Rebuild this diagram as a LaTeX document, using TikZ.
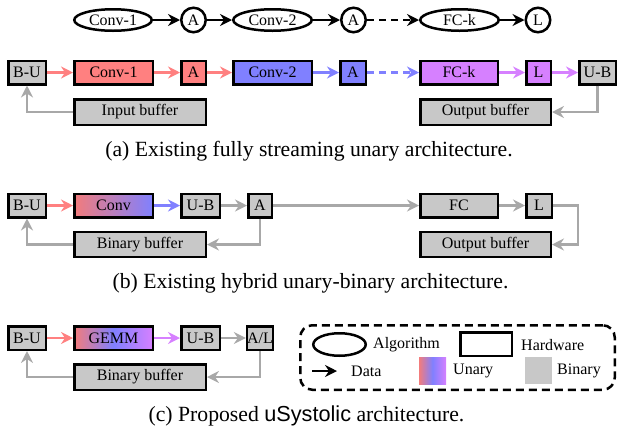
\documentclass[tikz,border=0pt]{standalone}
\usepackage{fontspec}
\setmainfont{Liberation Serif}
\newfontfamily\usysfont{Liberation Sans}
\usetikzlibrary{arrows.meta,shapes.geometric}

\definecolor{ured}{HTML}{FF8080}
\definecolor{ublue}{HTML}{8080FF}
\definecolor{upurple}{HTML}{D680FF}
\definecolor{bgray}{HTML}{C8C8C8}
\definecolor{agray}{HTML}{A8A8A8}
\definecolor{gred}{HTML}{F27C7C}

\tikzset{
  hw/.style={draw, line width=2.5pt, inner sep=0pt, minimum height=23.5pt,
    font=\fontsize{16}{18}\selectfont},
  alg/.style={ellipse, draw, line width=2.5pt, inner sep=0pt, minimum height=21.5pt,
    font=\fontsize{16}{18}\selectfont},
  actv/.style={circle, draw, line width=2.5pt, inner sep=0pt, minimum size=24.5pt,
    font=\fontsize{16}{18}\selectfont},
  flow/.style={line width=2.5pt, -{Stealth[length=12pt,width=12pt,inset=4pt]}},
  tricolor/.style={left color=gred, right color=upurple, middle color=ublue},
  captext/.style={anchor=base, inner sep=0pt, font=\fontsize{21.7}{24}\selectfont},
  lgtext/.style={anchor=west, inner sep=0pt, font=\fontsize{16}{18}\selectfont},
}

\begin{document}
\begin{tikzpicture}[x=1pt, y=-1pt]
\useasboundingbox (0,0) rectangle (618,432);

% ---------- algorithm view ----------
\node[alg, minimum width=77.5] (t1) at (113,20) {Conv-1};
\node[actv] (t2) at (193.5,20) {A};
\node[alg, minimum width=78.5] (t3) at (272.5,20) {Conv-2};
\node[actv] (t4) at (353.5,20) {A};
\node[alg, minimum width=78.5] (t5) at (459.5,20) {FC-k};
\node[actv] (t6) at (538,20) {L};
\draw[flow] (t1) -- (t2);
\draw[flow] (t2) -- (t3);
\draw[flow] (t3) -- (t4);
\draw[flow, dash pattern=on 7pt off 5pt] (t4) -- (t5);
\draw[flow] (t5) -- (t6);

% ---------- (a) fully streaming unary ----------
\node[hw, fill=bgray, minimum width=37.5] (a1) at (27,72.5) {B-U};
\node[hw, fill=ured, minimum width=78.5] (a2) at (113.5,72.5) {Conv-1};
\node[hw, fill=ured, minimum width=24.5] (a3) at (193.5,72.5) {A};
\node[hw, fill=ublue, minimum width=78.5] (a4) at (272.5,72.5) {Conv-2};
\node[hw, fill=ublue, minimum width=25.5] (a5) at (353,72.5) {A};
\node[hw, fill=upurple, minimum width=77.5] (a6) at (459,72.5) {FC-k};
\node[hw, fill=upurple, minimum width=24.5] (a7) at (538.5,72.5) {L};
\node[hw, fill=bgray, minimum width=36.5] (a8) at (597.5,72.5) {U-B};
\node[hw, fill=bgray, minimum width=131.5, minimum height=25.5] (ain) at (140,112) {Input buffer};
\node[hw, fill=bgray, minimum width=130.5, minimum height=25.5] (aout) at (485.5,112) {Output buffer};
\draw[flow, ured] (a1) -- (a2);
\draw[flow, ured] (a2) -- (a3);
\draw[flow, ured] (a3) -- (a4);
\draw[flow, ublue] (a4) -- (a5);
\draw[flow, ublue, dash pattern=on 7pt off 5pt] (a5) -- (a6);
\draw[flow, upurple] (a6) -- (a7);
\draw[flow, upurple] (a7) -- (a8);
\draw[flow, agray] (ain.west) -| (a1.south);
\draw[flow, agray] (a8.south) |- (aout.east);
\node[captext] (capa) at (309,156) {(a) Existing fully streaming unary architecture.};

% ---------- (b) hybrid unary-binary ----------
\node[hw, fill=bgray, minimum width=37.5] (b1) at (27,205.5) {B-U};
\node[hw, left color=gred, right color=ublue, minimum width=78.5] (b2) at (113.5,205.5) {Conv};
\node[hw, fill=bgray, minimum width=38.5] (b3) at (200.5,205.5) {U-B};
\node[hw, fill=bgray, minimum width=23.5] (b4) at (260,205.5) {A};
\node[hw, fill=bgray, minimum width=77.5] (b5) at (459,205.5) {FC};
\node[hw, fill=bgray, minimum width=25.5] (b6) at (539,205.5) {L};
\node[hw, fill=bgray, minimum width=131.5, minimum height=25] (bbuf) at (140,244.5) {Binary buffer};
\node[hw, fill=bgray, minimum width=130.5, minimum height=25] (bout) at (485.5,244.5) {Output buffer};
\coordinate (bturn) at (578,205.5);
\draw[flow, ured] (b1) -- (b2);
\draw[flow, ublue] (b2) -- (b3);
\draw[flow, agray] (b3) -- (b4);
\draw[flow, agray] (b4) -- (b5);
\draw[flow, agray] (b5) -- (b6);
\draw[flow, agray] (b6.east) -- (bturn) |- (bout.east);
\draw[flow, agray] (b4.south) |- (bbuf.east);
\draw[flow, agray] (bbuf.west) -| (b1.south);
\node[captext] (capb) at (310.5,288) {(b) Existing hybrid unary-binary architecture.};

% ---------- (c) uSystolic ----------
\node[hw, fill=bgray, minimum width=37.5] (c1) at (27,338) {B-U};
\node[hw, tricolor, minimum width=78.5] (c2) at (113.5,338) {GEMM};
\node[hw, fill=bgray, minimum width=38.5] (c3) at (200.5,338) {U-B};
\node[hw, fill=bgray, minimum width=23.5] (c4) at (260,338) {A/L};
\node[hw, fill=bgray, minimum width=131.5, minimum height=25.5] (cbuf) at (140,377) {Binary buffer};
\draw[flow, ured] (c1) -- (c2);
\draw[flow, upurple] (c2) -- (c3);
\draw[flow, agray] (c3) -- (c4);
\draw[flow, agray] (c4.south) |- (cbuf.east);
\draw[flow, agray] (cbuf.west) -| (c1.south);
\node[captext] (capc) at (306.5,421) {(c) Proposed {\usysfont uSystolic} architecture.};

% ---------- legend ----------
\node[draw, line width=2.5pt, dash pattern=on 8pt off 5pt, rounded corners=12pt,
  minimum width=314.5, minimum height=64.5, inner sep=0pt] (legend) at (457.5,357.5) {};
\node[alg, minimum width=52.5, minimum height=22.5] (lgalg) at (339.5,344.5) {};
\node[lgtext] (lgalgt) at (373,345) {Algorithm};
\node[hw, minimum width=51.5, minimum height=23.5] (lghw) at (486,344) {};
\node[lgtext] (lghwt) at (521,345) {Hardware};
\coordinate (lgd1) at (312,371);
\coordinate (lgd2) at (337,371);
\draw[flow] (lgd1) -- (lgd2);
\node[lgtext] (lgdt) at (351,371) {Data};
\node[inner sep=0pt, minimum size=27pt, tricolor] (lgun) at (432.5,370.5) {};
\node[lgtext] (lgunt) at (453,371) {Unary};
\node[inner sep=0pt, minimum size=27pt, fill=bgray] (lgbin) at (538.5,370.5) {};
\node[lgtext] (lgbint) at (557,371) {Binary};
\end{tikzpicture}
\end{document}
